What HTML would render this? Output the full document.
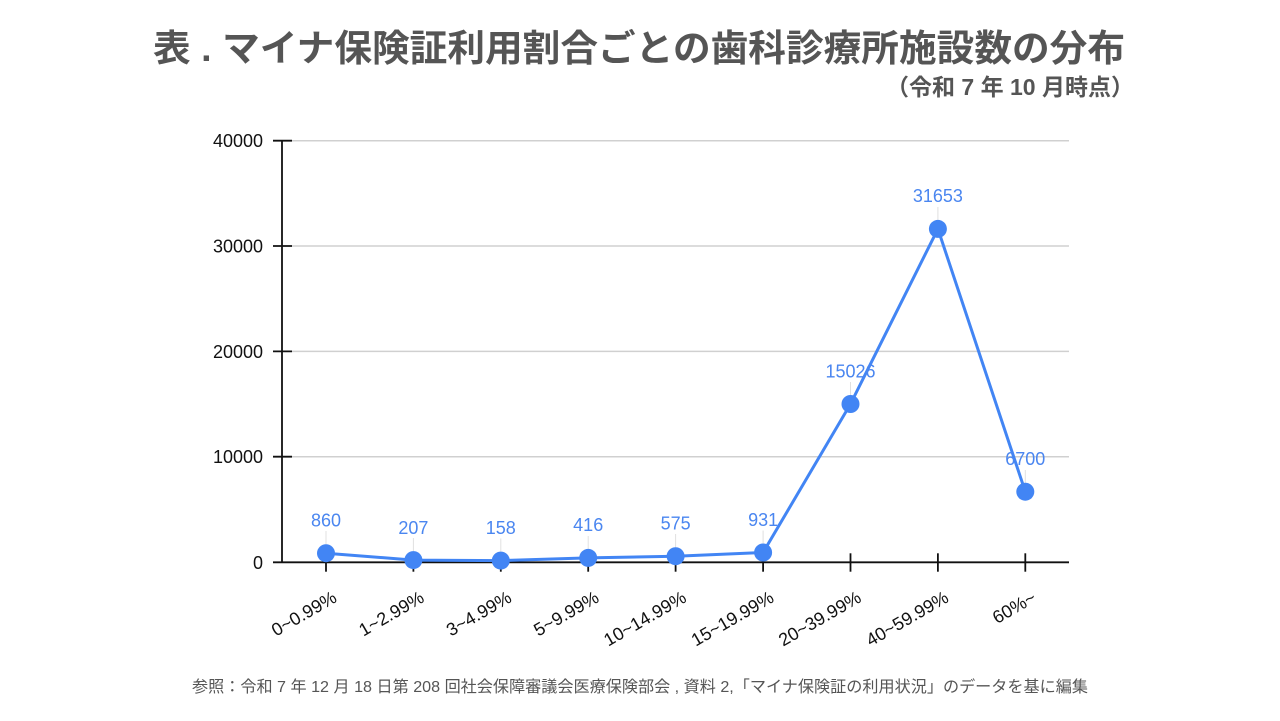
<!DOCTYPE html>
<html>
<head>
<meta charset="utf-8">
<style>
  html,body{margin:0;padding:0;background:#fff;}
  svg{display:block;}
</style>
</head>
<body>
<svg width="1280" height="721" viewBox="0 0 1280 721" xmlns="http://www.w3.org/2000/svg">
  <rect width="1280" height="721" fill="#fff"/>
  <!-- Title -->
  <text x="153" y="61" font-family="'Liberation Sans','Noto Sans CJK JP',sans-serif" font-weight="bold" font-size="37" fill="#555" textLength="972" lengthAdjust="spacingAndGlyphs">表 . マイナ保険証利用割合ごとの歯科診療所施設数の分布</text>
  <text x="886" y="95" font-family="'Liberation Sans','Noto Sans CJK JP',sans-serif" font-weight="bold" font-size="23" fill="#555" textLength="248" lengthAdjust="spacingAndGlyphs">（令和 7 年 10 月時点）</text>

  <!-- Gridlines -->
  <g stroke="#d0d0d0" stroke-width="1.5">
    <line x1="292" y1="140.7" x2="1069" y2="140.7"/>
    <line x1="292" y1="246" x2="1069" y2="246"/>
    <line x1="292" y1="351.4" x2="1069" y2="351.4"/>
    <line x1="292" y1="456.7" x2="1069" y2="456.7"/>
  </g>

  <!-- Axes -->
  <g stroke="#111" stroke-width="1.8">
    <line x1="282" y1="140.7" x2="282" y2="562.3"/>
    <line x1="273" y1="562.3" x2="1069" y2="562.3"/>
    <line x1="273" y1="140.7" x2="292" y2="140.7"/>
    <line x1="273" y1="246" x2="292" y2="246"/>
    <line x1="273" y1="351.4" x2="292" y2="351.4"/>
    <line x1="273" y1="456.7" x2="292" y2="456.7"/>
    <line x1="326" y1="553.3" x2="326" y2="571.7"/>
    <line x1="413.4" y1="553.3" x2="413.4" y2="571.7"/>
    <line x1="500.8" y1="553.3" x2="500.8" y2="571.7"/>
    <line x1="588.2" y1="553.3" x2="588.2" y2="571.7"/>
    <line x1="675.6" y1="553.3" x2="675.6" y2="571.7"/>
    <line x1="763.1" y1="553.3" x2="763.1" y2="571.7"/>
    <line x1="850.5" y1="553.3" x2="850.5" y2="571.7"/>
    <line x1="937.9" y1="553.3" x2="937.9" y2="571.7"/>
    <line x1="1025.3" y1="553.3" x2="1025.3" y2="571.7"/>
  </g>

  <!-- Y tick labels -->
  <g font-family="'Liberation Sans',sans-serif" font-size="18" fill="#111" text-anchor="end">
    <text x="263" y="147.2">40000</text>
    <text x="263" y="252.5">30000</text>
    <text x="263" y="357.9">20000</text>
    <text x="263" y="463.2">10000</text>
    <text x="263" y="568.8">0</text>
  </g>

  <!-- X labels -->
  <g font-family="'Liberation Sans',sans-serif" font-size="18" fill="#111" text-anchor="end">
    <text transform="translate(338,601) rotate(-30)">0~0.99%</text>
    <text transform="translate(425.4,601) rotate(-30)">1~2.99%</text>
    <text transform="translate(512.8,601) rotate(-30)">3~4.99%</text>
    <text transform="translate(600.2,601) rotate(-30)">5~9.99%</text>
    <text transform="translate(687.6,601) rotate(-30)">10~14.99%</text>
    <text transform="translate(775.1,601) rotate(-30)">15~19.99%</text>
    <text transform="translate(862.5,601) rotate(-30)">20~39.99%</text>
    <text transform="translate(949.9,601) rotate(-30)">40~59.99%</text>
    <text transform="translate(1037.3,601) rotate(-30)">60%~</text>
  </g>

  <!-- Leader lines -->
  <g stroke="#e0e0e0" stroke-width="1">
    <line x1="326" y1="531" x2="326" y2="545"/>
    <line x1="413.4" y1="538" x2="413.4" y2="552"/>
    <line x1="500.8" y1="538.5" x2="500.8" y2="552.5"/>
    <line x1="588.2" y1="536" x2="588.2" y2="550"/>
    <line x1="675.6" y1="534" x2="675.6" y2="548"/>
    <line x1="763.1" y1="530.5" x2="763.1" y2="544.5"/>
    <line x1="850.5" y1="382" x2="850.5" y2="396"/>
    <line x1="937.9" y1="207" x2="937.9" y2="221"/>
    <line x1="1025.3" y1="470" x2="1025.3" y2="484"/>
  </g>

  <!-- Series line -->
  <polyline fill="none" stroke="#4285F4" stroke-width="3" stroke-linejoin="round"
    points="326,553.2 413.4,560.1 500.8,560.6 588.2,557.9 675.6,556.2 763.1,552.5 850.5,404 937.9,228.9 1025.3,491.7"/>

  <!-- Points -->
  <g fill="#4285F4">
    <circle cx="326" cy="553.2" r="9"/>
    <circle cx="413.4" cy="560.1" r="9"/>
    <circle cx="500.8" cy="560.6" r="9"/>
    <circle cx="588.2" cy="557.9" r="9"/>
    <circle cx="675.6" cy="556.2" r="9"/>
    <circle cx="763.1" cy="552.5" r="9"/>
    <circle cx="850.5" cy="404" r="9"/>
    <circle cx="937.9" cy="228.9" r="9"/>
    <circle cx="1025.3" cy="491.7" r="9"/>
  </g>

  <!-- Data labels -->
  <g font-family="'Liberation Sans',sans-serif" font-size="18" fill="#4a86f0" text-anchor="middle">
    <text x="326" y="526.5">860</text>
    <text x="413.4" y="533.8">207</text>
    <text x="500.8" y="534">158</text>
    <text x="588.2" y="531">416</text>
    <text x="675.6" y="529.3">575</text>
    <text x="763.1" y="525.8">931</text>
    <text x="850.5" y="377.3">15026</text>
    <text x="937.9" y="202.2">31653</text>
    <text x="1025.3" y="465">6700</text>
  </g>

  <!-- Footer -->
  <text x="192" y="692" font-family="'Liberation Sans','Noto Sans CJK JP',sans-serif" font-size="16" fill="#555" textLength="896" lengthAdjust="spacingAndGlyphs">参照：令和 7 年 12 月 18 日第 208 回社会保障審議会医療保険部会 , 資料 2,「マイナ保険証の利用状況」のデータを基に編集</text>
</svg>
</body>
</html>
